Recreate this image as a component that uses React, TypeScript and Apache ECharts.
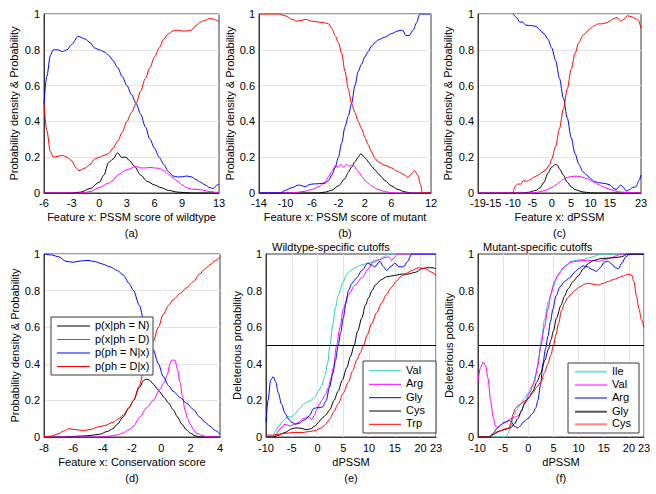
import React, { useEffect, useRef } from "react";
import * as echarts from "echarts";

type P = [number, number][];

// ---------- Panel (a): PSSM score of wildtype ----------
const aTicks = [-6, -3, 0, 3, 6, 9, 13];
const aBlack: P = [[-6,0],[-3,0],[-2,0.005],[-1,0.025],[0,0.06],[0.5,0.1],[1,0.17],[1.5,0.19],[2,0.225],[2.4,0.2],[2.9,0.2],[3.3,0.18],[3.8,0.15],[4.5,0.1],[5.2,0.065],[6,0.045],[6.7,0.03],[7.5,0.015],[8.5,0.005],[10,0],[13,0]];
const aMag: P = [[-6,0],[-2,0],[-1,0.008],[0,0.03],[1,0.055],[1.5,0.07],[2,0.1],[3,0.13],[4,0.148],[4.5,0.14],[5,0.14],[5.5,0.143],[6,0.14],[6.5,0.138],[7,0.125],[7.5,0.105],[8,0.085],[8.5,0.065],[9,0.045],[9.5,0.03],[10,0.022],[11,0.018],[12,0.008],[13,0]];
const aBlue: P = [[-6,0.5],[-5.7,0.65],[-5.3,0.77],[-5,0.8],[-4.5,0.8],[-4,0.79],[-3.5,0.8],[-3,0.83],[-2.3,0.875],[-1.5,0.86],[-1,0.84],[-0.5,0.81],[0,0.8],[0.5,0.79],[1,0.77],[1.5,0.74],[2,0.7],[2.5,0.65],[3,0.6],[3.5,0.55],[4,0.5],[4.5,0.44],[5,0.37],[5.5,0.3],[6,0.25],[6.5,0.2],[7,0.16],[7.5,0.12],[8,0.095],[8.5,0.09],[9,0.09],[9.5,0.095],[10,0.09],[10.5,0.075],[11,0.06],[11.5,0.045],[12,0.03],[12.4,0.025],[12.8,0.045],[13,0.05]];
const aRed: P = [[-6,0.5],[-5.7,0.35],[-5.3,0.23],[-5,0.2],[-4.5,0.205],[-4,0.21],[-3.5,0.2],[-3,0.18],[-2.5,0.14],[-2.2,0.125],[-1.5,0.14],[-1,0.16],[-0.5,0.19],[0,0.2],[0.5,0.21],[1,0.22],[1.5,0.25],[2,0.29],[2.5,0.34],[3,0.4],[3.5,0.45],[4,0.5],[4.5,0.57],[5,0.64],[5.5,0.7],[6,0.76],[6.5,0.81],[7,0.86],[7.5,0.89],[8,0.905],[8.5,0.91],[9,0.905],[9.5,0.905],[10,0.91],[10.5,0.935],[11,0.955],[11.5,0.965],[12,0.975],[12.5,0.97],[13,0.955]];

// ---------- Panel (b): PSSM score of mutant ----------
const bTicks = [-14, -10, -6, -2, 2, 6, 12];
const bBlack: P = [[-14,0],[-5,0],[-4,0.005],[-3,0.015],[-2,0.04],[-1,0.08],[-0.5,0.115],[0,0.145],[0.5,0.175],[1,0.2],[1.4,0.22],[1.8,0.205],[2.2,0.19],[2.6,0.17],[3,0.15],[3.5,0.13],[4,0.11],[4.5,0.09],[5,0.07],[6,0.04],[7,0.02],[8,0.007],[9,0],[12,0]];
const bMag: P = [[-14,0],[-9,0],[-8,0.005],[-7,0.01],[-6,0.02],[-5,0.035],[-4,0.06],[-3.5,0.09],[-3,0.12],[-2.5,0.15],[-2,0.145],[-1.6,0.16],[-1.2,0.145],[-0.8,0.16],[-0.4,0.15],[0,0.155],[0.4,0.15],[0.8,0.13],[1.2,0.11],[1.6,0.09],[2,0.07],[2.5,0.055],[3,0.04],[4,0.02],[5,0.008],[6,0.002],[7,0],[12,0]];
const bBlue: P = [[-14,0],[-10.8,0],[-10,0.015],[-9,0.03],[-8,0.045],[-7.5,0.04],[-7,0.035],[-6.5,0.045],[-6,0.05],[-5,0.052],[-4,0.055],[-3.5,0.07],[-3,0.1],[-2.5,0.14],[-2,0.2],[-1.5,0.28],[-1,0.37],[-0.5,0.43],[0,0.5],[0.5,0.6],[1,0.68],[1.5,0.72],[2,0.76],[2.5,0.79],[3,0.82],[3.5,0.84],[4,0.855],[5,0.87],[6,0.89],[7,0.905],[7.7,0.91],[8.2,0.88],[8.7,0.88],[9.3,0.91],[9.8,0.95],[10.3,1],[12,1]];
const bRed: P = [[-14,1],[-11,1],[-10,0.99],[-9,0.97],[-8.3,0.96],[-7.5,0.965],[-7,0.97],[-6,0.96],[-5,0.955],[-4,0.95],[-3.5,0.945],[-3,0.92],[-2.5,0.88],[-2,0.84],[-1.5,0.78],[-1,0.68],[-0.5,0.58],[0,0.5],[0.5,0.45],[1,0.4],[1.5,0.36],[2,0.31],[2.5,0.27],[3,0.23],[3.5,0.195],[4,0.175],[5,0.155],[6,0.14],[7,0.12],[7.5,0.11],[8,0.1],[8.5,0.088],[9,0.105],[9.5,0.125],[10,0.1],[10.4,0.05],[10.7,0],[12,0]];

// ---------- Panel (c): dPSSM ----------
const cTicks = [-19, -10, -5, 0, 5, 10, 15, 23];
const cTicksExtra = [-15];
const cBlack: P = [[-19,0],[-8,0],[-6,0.004],[-4,0.015],[-3,0.03],[-2,0.06],[-1,0.11],[0,0.145],[1,0.16],[1.5,0.155],[2,0.135],[3,0.1],[4,0.06],[5,0.035],[6,0.02],[7,0.012],[8,0.006],[10,0.001],[12,0],[23,0]];
const cMag: P = [[-19,0],[-6,0],[-4,0.003],[-2,0.012],[0,0.03],[1,0.045],[2,0.06],[3,0.076],[4,0.087],[5,0.092],[6,0.094],[7,0.093],[8,0.088],[9,0.08],[10,0.07],[11,0.058],[12,0.047],[13,0.037],[14,0.028],[15,0.02],[16,0.013],[17,0.008],[18,0.005],[20,0.002],[23,0]];
const cBlue: P = [[-10,1],[-9,0.98],[-8.3,0.955],[-7.5,0.955],[-6.8,0.94],[-6,0.935],[-5,0.935],[-4,0.93],[-3,0.91],[-2,0.89],[-1,0.86],[0,0.81],[1,0.74],[2,0.64],[3,0.53],[4,0.42],[5,0.31],[6,0.22],[7,0.16],[8,0.12],[9,0.1],[10,0.08],[11,0.065],[12,0.058],[13,0.055],[14,0.052],[15,0.045],[16,0.025],[16.6,0.02],[17.8,0.045],[18.5,0.03],[19.2,0.01],[20,0.018],[20.8,0.03],[21.7,0.035],[22.5,0.07],[23,0.1]];
const cRed: P = [[-10,0],[-9.3,0.04],[-8.8,0.05],[-8,0.05],[-7.3,0.07],[-6.5,0.065],[-5.5,0.075],[-4.5,0.09],[-3.5,0.1],[-2.5,0.115],[-1.5,0.13],[-0.5,0.16],[0,0.19],[1,0.26],[2,0.36],[3,0.47],[4,0.58],[5,0.69],[6,0.78],[7,0.84],[8,0.88],[9,0.9],[10,0.92],[11,0.935],[12,0.945],[13,0.945],[14,0.95],[15,0.96],[16,0.975],[16.8,0.98],[17.8,0.96],[18.5,0.97],[19.5,0.99],[20.5,0.985],[21.5,0.975],[22.3,0.965],[23,0.92]];

// ---------- Panel (d): conservation score ----------
const dTicks = [-8, -6, -4, -2, 0, 2, 4];
const dBlack: P = [[-8,0],[-6.5,0],[-6,0.003],[-5,0.007],[-4.2,0.015],[-3.7,0.03],[-3.3,0.045],[-3,0.07],[-2.6,0.11],[-2.2,0.16],[-1.9,0.2],[-1.5,0.27],[-1.2,0.31],[-1,0.316],[-0.8,0.31],[-0.55,0.29],[-0.3,0.265],[-0.1,0.245],[0.2,0.215],[0.5,0.185],[0.8,0.15],[1.1,0.11],[1.4,0.07],[1.7,0.04],[2,0.02],[2.3,0.007],[2.6,0.001],[3,0],[4,0]];
const dMag: P = [[-8,0],[-4.5,0],[-4,0.002],[-3.5,0.005],[-3,0.012],[-2.6,0.022],[-2.2,0.04],[-1.9,0.06],[-1.46,0.11],[-1,0.16],[-0.55,0.2],[-0.1,0.26],[0.2,0.3],[0.4,0.34],[0.6,0.4],[0.7,0.42],[0.93,0.42],[1.1,0.37],[1.27,0.3],[1.45,0.22],[1.6,0.15],[1.8,0.1],[1.96,0.07],[2.2,0.04],[2.4,0.02],[2.9,0.005],[3.5,0],[4,0]];
const dBlue: P = [[-8,1],[-7.5,0.995],[-7,0.985],[-6.5,0.96],[-6,0.955],[-5.5,0.962],[-5,0.965],[-4.5,0.958],[-4,0.945],[-3.5,0.93],[-3,0.91],[-2.6,0.885],[-2.2,0.84],[-1.9,0.8],[-1.5,0.72],[-1.2,0.64],[-0.9,0.56],[-0.55,0.476],[-0.2,0.4],[0.13,0.33],[0.5,0.28],[0.8,0.25],[1.3,0.215],[1.7,0.185],[2.2,0.15],[2.6,0.11],[3,0.08],[3.3,0.06],[3.7,0.035],[4,0.015]];
const dRed: P = [[-8,0],[-7.5,0.005],[-7,0.018],[-6.6,0.035],[-6.3,0.045],[-5.8,0.04],[-5.3,0.035],[-4.8,0.042],[-4.3,0.055],[-3.9,0.062],[-3.3,0.08],[-2.9,0.1],[-2.6,0.12],[-2.2,0.16],[-1.9,0.2],[-1.5,0.28],[-1.2,0.36],[-0.9,0.44],[-0.55,0.524],[-0.2,0.6],[0.13,0.67],[0.5,0.72],[0.8,0.75],[1.3,0.785],[1.7,0.815],[2.2,0.85],[2.6,0.89],[3,0.92],[3.3,0.94],[3.7,0.965],[4,0.985]];
const dLegend = ["p(x|ph = N)", "p(x|ph = D)", "p(ph = N|x)", "p(ph = D|x)"];

// ---------- Panel (e): wildtype-specific cutoffs ----------
const eTicks = [-10, -5, 0, 5, 10, 15, 20, 23];
const eNames = ["Val", "Arg", "Gly", "Cys", "Trp"];
const eVal: P = [[-10,0],[-8.7,0],[-8.2,0.03],[-7.5,0.06],[-6.6,0.09],[-5.8,0.11],[-5,0.11],[-4.3,0.13],[-3.5,0.155],[-2.7,0.18],[-2,0.19],[-1.3,0.2],[-0.5,0.22],[0.2,0.25],[0.8,0.28],[1.5,0.34],[2,0.41],[2.4,0.5],[3,0.62],[3.5,0.71],[4,0.77],[5,0.85],[5.7,0.89],[6.5,0.91],[7.3,0.925],[8.5,0.94],[9.9,0.95],[11,0.955],[11.8,0.965],[12.8,0.985],[13.8,1],[23,1]];
const eArg: P = [[-10,0],[-8.5,0],[-7.9,0.02],[-7.3,0.045],[-6.3,0.07],[-5.3,0.06],[-4.5,0.07],[-3.7,0.08],[-2.8,0.1],[-1.8,0.11],[-1.1,0.095],[-0.6,0.12],[-0.16,0.15],[0.4,0.18],[0.8,0.2],[1.5,0.23],[2.1,0.27],[2.6,0.32],[3.1,0.38],[3.7,0.5],[4.37,0.6],[5,0.7],[6,0.78],[7.3,0.83],[8.6,0.87],[9.9,0.92],[10.8,0.96],[12.1,0.97],[13.1,0.98],[13.75,0.985],[14.4,0.965],[14.9,0.98],[15.4,1],[23,1]];
const eGly: P = [[-10,0.08],[-9.6,0.2],[-9.1,0.31],[-8.6,0.33],[-8.1,0.3],[-7.6,0.24],[-7,0.18],[-6.3,0.13],[-5.7,0.1],[-5,0.08],[-4.3,0.07],[-3.5,0.075],[-2.8,0.09],[-2.1,0.1],[-1.5,0.12],[-0.8,0.155],[-0.2,0.16],[0.5,0.16],[1,0.165],[1.7,0.2],[2.3,0.27],[3,0.35],[3.5,0.42],[4,0.5],[4.5,0.57],[5,0.65],[5.5,0.73],[6,0.8],[6.7,0.84],[7.6,0.87],[8.6,0.91],[9.8,0.95],[10.5,0.94],[11.1,0.93],[12.1,0.96],[12.8,0.93],[13.4,0.91],[14.2,0.93],[15,0.95],[15.8,0.93],[16.7,0.93],[17.5,0.96],[18.3,1],[23,1]];
const eCys: P = [[-10,0],[-8.5,0],[-7.5,0.01],[-6.3,0.025],[-5,0.045],[-4.2,0.05],[-3.3,0.048],[-2.1,0.04],[-1.3,0.045],[-0.5,0.06],[0.2,0.08],[0.8,0.1],[1.6,0.12],[2.4,0.15],[3.2,0.2],[4,0.25],[4.8,0.31],[5.7,0.38],[6.4,0.44],[7.1,0.5],[7.8,0.58],[8.6,0.65],[9.3,0.72],[9.9,0.76],[10.6,0.8],[11.2,0.83],[12.4,0.86],[13.4,0.875],[14.4,0.88],[15.4,0.885],[16.3,0.89],[17.5,0.89],[19,0.9],[20.3,0.92],[21.2,0.925],[22.2,0.925],[23,0.92]];
const eTrp: P = [[-10,0.01],[-8.6,0.01],[-7.5,0.015],[-6.3,0.02],[-4.4,0.025],[-2.8,0.025],[-1.5,0.03],[-0.5,0.035],[0.8,0.05],[1.6,0.07],[2.4,0.1],[3.2,0.14],[4,0.18],[5,0.24],[6,0.3],[6.8,0.36],[7.6,0.42],[8.3,0.46],[8.9,0.5],[9.7,0.56],[10.5,0.62],[11.5,0.68],[12.4,0.73],[13.4,0.78],[14.4,0.82],[15.3,0.85],[16.3,0.88],[17.3,0.895],[18.3,0.91],[19.6,0.925],[20.9,0.92],[22.2,0.9],[23,0.88]];

// ---------- Panel (f): mutant-specific cutoffs ----------
const fTicks = [-10, -5, 0, 5, 10, 15, 20, 23];
const fNames = ["Ile", "Val", "Arg", "Gly", "Cys"];
const fIle: P = [[-10,0],[-4.5,0],[-4,0.02],[-3.5,0.06],[-2.8,0.12],[-2.3,0.15],[-1.5,0.18],[-0.8,0.21],[0,0.24],[0.8,0.28],[1.5,0.34],[2.2,0.45],[2.7,0.55],[3.2,0.64],[4,0.74],[4.9,0.82],[5.9,0.88],[6.5,0.91],[7.5,0.94],[8.5,0.96],[9.5,0.965],[10.9,0.97],[12.2,0.98],[13.5,0.99],[14.2,1],[23,1]];
const fVal: P = [[-10,0.3],[-9.5,0.38],[-9,0.41],[-8.5,0.39],[-8,0.32],[-7.5,0.2],[-7,0.11],[-6.5,0.06],[-6.1,0.05],[-5.5,0.065],[-5,0.075],[-4.5,0.08],[-3.5,0.1],[-2.5,0.11],[-1.8,0.12],[-1.3,0.15],[-0.5,0.2],[0.2,0.24],[1.2,0.3],[1.8,0.38],[2.5,0.5],[3.2,0.6],[3.9,0.7],[4.5,0.78],[5.2,0.85],[6,0.89],[7.2,0.93],[8.5,0.955],[9.5,0.96],[11,0.965],[12.5,0.965],[14,0.96],[15.5,0.97],[16.5,0.98],[17.5,0.99],[18.5,1],[23,1]];
const fArg: P = [[-10,0],[-7.5,0],[-7,0.02],[-6.1,0.05],[-5.5,0.065],[-4.8,0.08],[-3.8,0.09],[-3.3,0.08],[-2.8,0.06],[-2.1,0.05],[-1.6,0.06],[-1.1,0.08],[-0.1,0.1],[0.9,0.13],[1.5,0.16],[1.9,0.2],[2.4,0.28],[2.9,0.4],[3.4,0.48],[3.9,0.55],[4.4,0.63],[4.9,0.7],[5.5,0.77],[6.3,0.82],[7.2,0.85],[8.2,0.87],[9.2,0.9],[10,0.92],[10.9,0.935],[11.8,0.93],[12.7,0.915],[13.5,0.905],[14.3,0.925],[15.1,0.955],[15.8,0.96],[16.6,0.945],[17.3,0.925],[17.9,0.92],[18.6,0.95],[19.4,0.985],[20.2,1],[23,1]];
const fGly: P = [[-10,0],[-7.8,0],[-7,0.015],[-6,0.03],[-4.8,0.04],[-3.5,0.05],[-2.8,0.07],[-2.1,0.1],[-1.4,0.14],[-0.8,0.18],[0,0.21],[0.9,0.25],[1.7,0.3],[2.5,0.35],[3.3,0.42],[4,0.48],[4.5,0.53],[5,0.58],[5.6,0.65],[6.5,0.72],[7.2,0.77],[7.9,0.81],[8.9,0.85],[9.9,0.88],[11,0.92],[12,0.95],[13,0.965],[14.5,0.975],[16,0.978],[17.2,0.98],[18.5,0.985],[19.8,1],[23,1]];
const fCys: P = [[-10,0],[-8,0],[-7.2,0.01],[-6.5,0.02],[-5.5,0.035],[-4.5,0.045],[-3.8,0.05],[-3.4,0.08],[-3.1,0.12],[-2.6,0.155],[-2.1,0.17],[-1.6,0.18],[-1.1,0.19],[-0.5,0.2],[0.2,0.22],[0.9,0.24],[1.6,0.27],[2.5,0.3],[3.2,0.35],[3.9,0.4],[4.5,0.45],[5,0.5],[5.5,0.56],[6,0.62],[6.6,0.69],[7.2,0.73],[7.8,0.76],[8.5,0.78],[9.2,0.8],[10.2,0.82],[11.2,0.835],[11.9,0.84],[12.9,0.835],[13.9,0.83],[14.9,0.84],[15.9,0.85],[16.9,0.86],[17.9,0.87],[18.9,0.88],[19.8,0.89],[20.5,0.885],[21,0.85],[21.5,0.77],[22,0.7],[22.5,0.64],[23,0.6]];

const yRange = [0, 1];

const FONT = "'Liberation Sans', Arial, Helvetica, sans-serif";
const BLACK = "#000000";
const MAG = "#ff00ff";
const BLUE = "#0000ff";
const RED = "#ff0000";
const CYAN = "#2ccbc3";
const BORDER = "#3a3a3a";
const GRIDC = "#e3e3e3";
const FS = 11;

export default function App() {
  const ref = useRef<HTMLDivElement>(null);
  useEffect(() => {
    if (!ref.current) return;
    const chart = echarts.init(ref.current, undefined, { renderer: "svg" });

    const grids = [
      { left: 44, top: 14, width: 175, height: 179 },
      { left: 259, top: 14, width: 172, height: 179 },
      { left: 478, top: 14, width: 163, height: 179 },
      { left: 44, top: 254, width: 176, height: 183 },
      { left: 266, top: 254, width: 170, height: 183 },
      { left: 478, top: 254, width: 166, height: 183 },
    ].map((g) => ({ ...g, show: true, borderColor: BORDER, borderWidth: 1, backgroundColor: "#fff" }));

    const xSpec = [
      { min: -6, max: 13, ticks: aTicks, name: "Feature x: PSSM score of wildtype\n(a)", vgrid: false },
      { min: -14, max: 12, ticks: bTicks, name: "Feature x: PSSM score of mutant\n(b)", vgrid: false },
      { min: -19, max: 23, ticks: cTicks, name: "Feature x: dPSSM\n(c)", vgrid: false },
      { min: -8, max: 4, ticks: dTicks, name: "Feature x: Conservation score\n(d)", vgrid: false },
      { min: -10, max: 23, ticks: eTicks, name: "dPSSM\n(e)", vgrid: true },
      { min: -10, max: 23, ticks: fTicks, name: "dPSSM\n(f)", vgrid: true },
    ];
    const labelStyle = { fontFamily: FONT, fontSize: FS, color: "#000" };
    const xAxis: any[] = xSpec.map((s, i) => ({
      type: "value",
      gridIndex: i,
      position: "bottom",
      min: s.min,
      max: s.max,
      interval: s.vgrid ? 5 : undefined,
      name: s.name,
      nameLocation: "middle",
      nameGap: i < 3 ? 12 : 17,
      nameTextStyle: { ...labelStyle, lineHeight: 16 },
      axisLine: { show: true, onZero: false, lineStyle: { color: BORDER, width: 1 } },
      axisTick: { show: false },
      axisLabel: {
        ...labelStyle,
        customValues: s.ticks,
        margin: i < 3 ? 4 : 5,
        showMinLabel: true,
        showMaxLabel: true,
        hideOverlap: false,
      },
      splitLine: { show: s.vgrid, lineStyle: { color: GRIDC, width: 1 } },
    }));
    // extra label-only axis for the crowded "-15" tick of panel (c)
    xAxis.push({
      type: "value",
      gridIndex: 2,
      position: "bottom",
      min: -19,
      max: 23,
      axisLine: { show: false, onZero: false },
      axisTick: { show: false },
      splitLine: { show: false },
      axisLabel: { ...labelStyle, customValues: cTicksExtra, margin: 4, hideOverlap: false },
    });

    const yNames = [
      "Probability density & Probability",
      "Probability density & Probability",
      "Probability density & Probability",
      "Probability density & Probability",
      "Deleterious probability",
      "Deleterious pobability",
    ];
    const yGaps = [25, 17, 25, 24, 23, 23];
    const yAxis = yNames.map((n, i) => ({
      type: "value",
      gridIndex: i,
      min: yRange[0],
      max: yRange[1],
      interval: 0.2,
      name: n,
      nameLocation: "middle",
      nameGap: yGaps[i],
      nameTextStyle: labelStyle,
      axisLine: { show: true, onZero: false, lineStyle: { color: BORDER, width: 1 } },
      axisTick: { show: false },
      axisLabel: { ...labelStyle, margin: 4 },
      splitLine: { show: i < 4, lineStyle: { color: GRIDC, width: 1 } },
    }));

    const line = (name: string, data: P, color: string, idx: number, extra: any = {}) => ({
      type: "line",
      name,
      data,
      xAxisIndex: idx,
      yAxisIndex: idx,
      showSymbol: false,
      symbol: "none",
      smooth: 0.3,
      smoothMonotone: "x",
      silent: true,
      lineStyle: { width: 1, color },
      itemStyle: { color },
      ...extra,
    });

    const half = {
      markLine: {
        silent: true,
        symbol: "none",
        label: { show: false },
        lineStyle: { color: "#000", width: 1, type: "solid" },
        data: [{ yAxis: 0.5 }],
      },
    };

    const series = [
      line("a-N", aBlack, BLACK, 0), line("a-D", aMag, MAG, 0), line("a-Nx", aBlue, BLUE, 0), line("a-Dx", aRed, RED, 0),
      line("b-N", bBlack, BLACK, 1), line("b-D", bMag, MAG, 1), line("b-Nx", bBlue, BLUE, 1), line("b-Dx", bRed, RED, 1),
      line("c-N", cBlack, BLACK, 2), line("c-D", cMag, MAG, 2), line("c-Nx", cBlue, BLUE, 2), line("c-Dx", cRed, RED, 2),
      line("d-N", dBlack, BLACK, 3), line("d-D", dMag, MAG, 3), line("d-Nx", dBlue, BLUE, 3), line("d-Dx", dRed, RED, 3),
      line("e-Val", eVal, CYAN, 4), line("e-Arg", eArg, MAG, 4), line("e-Gly", eGly, BLUE, 4), line("e-Cys", eCys, BLACK, 4), line("e-Trp", eTrp, RED, 4, half),
      line("f-Ile", fIle, CYAN, 5), line("f-Val", fVal, MAG, 5), line("f-Arg", fArg, BLUE, 5), line("f-Gly", fGly, BLACK, 5), line("f-Cys", fCys, RED, 5, half),
    ];

    const graphic: any[] = [];
    const legendBox = (
      key: string, x: number, y: number, w: number, h: number,
      rows: number[], labels: string[], colors: string[],
      lx1: number, lx2: number, tx: number, lw: number
    ) => {
      graphic.push({
        type: "rect", id: key + "-box", z: 100, silent: true,
        shape: { x, y, width: w, height: h },
        style: { fill: "#ffffff", stroke: BORDER, lineWidth: 1 },
      });
      labels.forEach((t, k) => {
        graphic.push({
          type: "polyline", id: `${key}-l${k}`, z: 101, silent: true,
          shape: { points: [[lx1, rows[k]], [lx2, rows[k]]] },
          style: { stroke: colors[k], lineWidth: lw, fill: "none" },
        });
        graphic.push({
          type: "text", id: `${key}-t${k}`, z: 102, silent: true,
          x: tx, y: rows[k] - 6.5,
          style: { text: t, fill: "#000", font: `${FS}px ${FONT}` },
        });
      });
    };
    legendBox("d", 51, 317, 102, 58, [326, 339.5, 353, 366.5], dLegend, [BLACK, MAG, BLUE, RED], 57, 90, 95, 1);
    legendBox("e", 363, 361, 73, 72, [370.7, 384.3, 397.7, 411, 424.3], eNames, [CYAN, MAG, BLUE, BLACK, RED], 369, 401, 406, 1);
    legendBox("f", 568, 363, 71, 70, [371.7, 385, 398, 411.7, 424.3], fNames, ["#7fe0dc", "#ff7fff", "#7f7fff", "#555555", "#ff8080"], 575, 607, 612, 2);
    graphic.push({ type: "text", id: "te", x: 272, y: 241, z: 102, style: { text: "Wildtype-specific cutoffs", fill: "#000", font: `${FS}px ${FONT}` } });
    graphic.push({ type: "text", id: "tf", x: 483, y: 241, z: 102, style: { text: "Mutant-specific cutoffs", fill: "#000", font: `${FS}px ${FONT}` } });

    chart.setOption({
      animation: false,
      backgroundColor: "#fff",
      grid: grids,
      xAxis,
      yAxis,
      series,
      graphic,
    });
    return () => chart.dispose();
  }, []);
  return (
    <div
      ref={ref}
      style={{ position: "fixed", left: 0, top: 0, width: 656, height: 494, background: "#fff" }}
    />
  );
}
